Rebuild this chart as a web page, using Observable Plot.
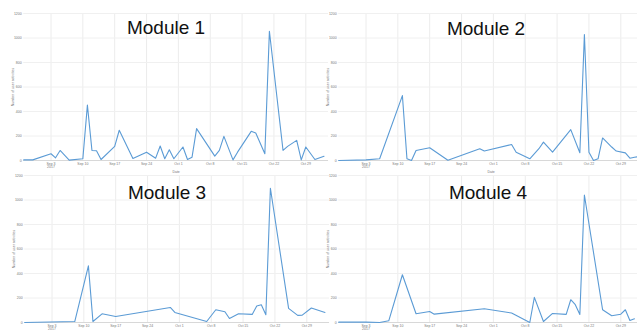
<!DOCTYPE html>
<html>
<head>
<meta charset="utf-8">
<script src="https://cdn.jsdelivr.net/npm/d3@7"></script>
<script src="https://cdn.jsdelivr.net/npm/@observablehq/plot@0.6"></script>
<style>
  html, body { margin: 0; padding: 0; background: #fff; }
  #wrap { position: relative; width: 637px; height: 332px; overflow: hidden; background: #fff; }
  .panel { position: absolute; }
  .title { position: absolute; font-family: "Liberation Sans", Arial, Helvetica, sans-serif; font-size: 19px; color: #111; white-space: nowrap; transform: translateX(-50%); line-height: 1; }
</style>
</head>
<body>
<div id="wrap"></div>
<script>
// ---- data ----
const titles = ["Module 1", "Module 2", "Module 3", "Module 4"];
const xTicks = ["2017-09-03","2017-09-10","2017-09-17","2017-09-24","2017-10-01","2017-10-08","2017-10-15","2017-10-22","2017-10-29"];
const xTickLabels = ["Sep 3\n2017","Sep 10","Sep 17","Sep 24","Oct 1","Oct 8","Oct 15","Oct 22","Oct 29"];
const yTicks = [0, 200, 400, 600, 800, 1000, 1200];
const xDomain = ["2017-08-28", "2017-11-03"];
const yDomain = [0, 1200];

const m1Dates = ["2017-08-28","2017-08-30","2017-09-03","2017-09-04","2017-09-05","2017-09-07","2017-09-10","2017-09-11","2017-09-12","2017-09-13","2017-09-14","2017-09-17","2017-09-18","2017-09-21","2017-09-24","2017-09-26","2017-09-27","2017-09-28","2017-09-29","2017-09-30","2017-10-02","2017-10-03","2017-10-04","2017-10-05","2017-10-09","2017-10-10","2017-10-11","2017-10-13","2017-10-14","2017-10-17","2017-10-18","2017-10-20","2017-10-21","2017-10-24","2017-10-25","2017-10-27","2017-10-28","2017-10-29","2017-10-31","2017-11-02"];
const m1Values = [5,5,55,22,82,3,14,452,82,80,8,115,247,16,68,19,118,14,88,14,110,8,27,260,36,82,197,5,68,238,225,55,1055,82,115,164,5,110,8,35];

const m2Dates = ["2017-08-28","2017-09-03","2017-09-06","2017-09-11","2017-09-12","2017-09-13","2017-09-14","2017-09-17","2017-09-21","2017-09-28","2017-09-29","2017-10-05","2017-10-06","2017-10-09","2017-10-11","2017-10-12","2017-10-14","2017-10-18","2017-10-20","2017-10-21","2017-10-22","2017-10-23","2017-10-24","2017-10-25","2017-10-27","2017-10-28","2017-10-30","2017-10-31","2017-11-01","2017-11-02"];
const m2Values = [0,5,14,530,14,0,82,104,2,96,77,131,68,14,96,150,68,252,63,1029,68,0,14,184,110,77,62,19,27,32];

const m3Dates = ["2017-08-28","2017-09-08","2017-09-11","2017-09-12","2017-09-14","2017-09-17","2017-09-29","2017-09-30","2017-10-07","2017-10-09","2017-10-11","2017-10-12","2017-10-14","2017-10-17","2017-10-18","2017-10-19","2017-10-20","2017-10-21","2017-10-25","2017-10-27","2017-10-28","2017-10-30","2017-11-02"];
const m3Values = [0,8,462,8,71,49,123,82,8,104,88,33,71,66,134,145,63,1096,115,58,60,118,82];

const m4Dates = ["2017-08-28","2017-09-03","2017-09-06","2017-09-08","2017-09-11","2017-09-14","2017-09-17","2017-09-18","2017-09-29","2017-10-05","2017-10-09","2017-10-10","2017-10-12","2017-10-14","2017-10-17","2017-10-18","2017-10-19","2017-10-20","2017-10-21","2017-10-25","2017-10-27","2017-10-29","2017-10-30","2017-10-31","2017-11-01"];
const m4Values = [3,3,0,14,390,71,90,68,112,77,0,205,8,74,66,186,145,66,1041,104,55,68,104,16,30];

const series = [[m1Dates, m1Values], [m2Dates, m2Values], [m3Dates, m3Values], [m4Dates, m4Values]];

// ---- layout ----
const panelPos = [[0, 0], [314.5, 0], [1, 162], [315.4, 162]];
const titlePos = [[166, 18], [486, 19], [167, 183], [488, 183]];
const showXLabel = [true, true, false, false];

const wrap = document.getElementById("wrap");
const tickDates = xTicks.map(d => new Date(d));

series.forEach(([dates, values], k) => {
  const data = dates.map((d, i) => ({date: new Date(d), value: values[i]}));
  const chart = Plot.plot({
    width: 330,
    height: 180,
    marginTop: 13,
    marginBottom: 20,
    marginLeft: 23.2,
    marginRight: 1.95,
    style: {background: "transparent", fontSize: "3.5px", fontFamily: "'Liberation Sans', Arial, Helvetica, sans-serif", overflow: "visible", color: "#777"},
    x: {
      type: "utc",
      domain: xDomain.map(d => new Date(d)),
      ticks: tickDates,
      tickFormat: (d) => xTickLabels[tickDates.findIndex(t => +t === +d)],
      tickSize: 0,
      tickPadding: 2,
      label: showXLabel[k] ? "Date" : null,
      labelArrow: false,
      labelAnchor: "center",
      labelOffset: 12
    },
    y: {
      domain: yDomain,
      ticks: yTicks,
      tickFormat: d => String(d),
      tickSize: 0,
      tickPadding: 2,
      label: "Number of user activities",
      labelArrow: false,
      labelAnchor: "center",
      labelOffset: 12
    },
    marks: [
      Plot.gridX(tickDates, {stroke: "#ececec", strokeOpacity: 1}),
      Plot.gridY(yTicks, {stroke: "#f0f0f0", strokeOpacity: 1}),
      Plot.ruleY([0], {stroke: "#d8d8d8"}),
      Plot.line(data, {x: "date", y: "value", stroke: "#5b9bd5", strokeWidth: 1.1})
    ]
  });
  chart.classList.add("panel");
  chart.style.left = panelPos[k][0] + "px";
  chart.style.top = panelPos[k][1] + "px";
  wrap.appendChild(chart);

  const t = document.createElement("div");
  t.className = "title";
  t.textContent = titles[k];
  t.style.left = titlePos[k][0] + "px";
  t.style.top = titlePos[k][1] + "px";
  wrap.appendChild(t);
});
</script>
</body>
</html>
